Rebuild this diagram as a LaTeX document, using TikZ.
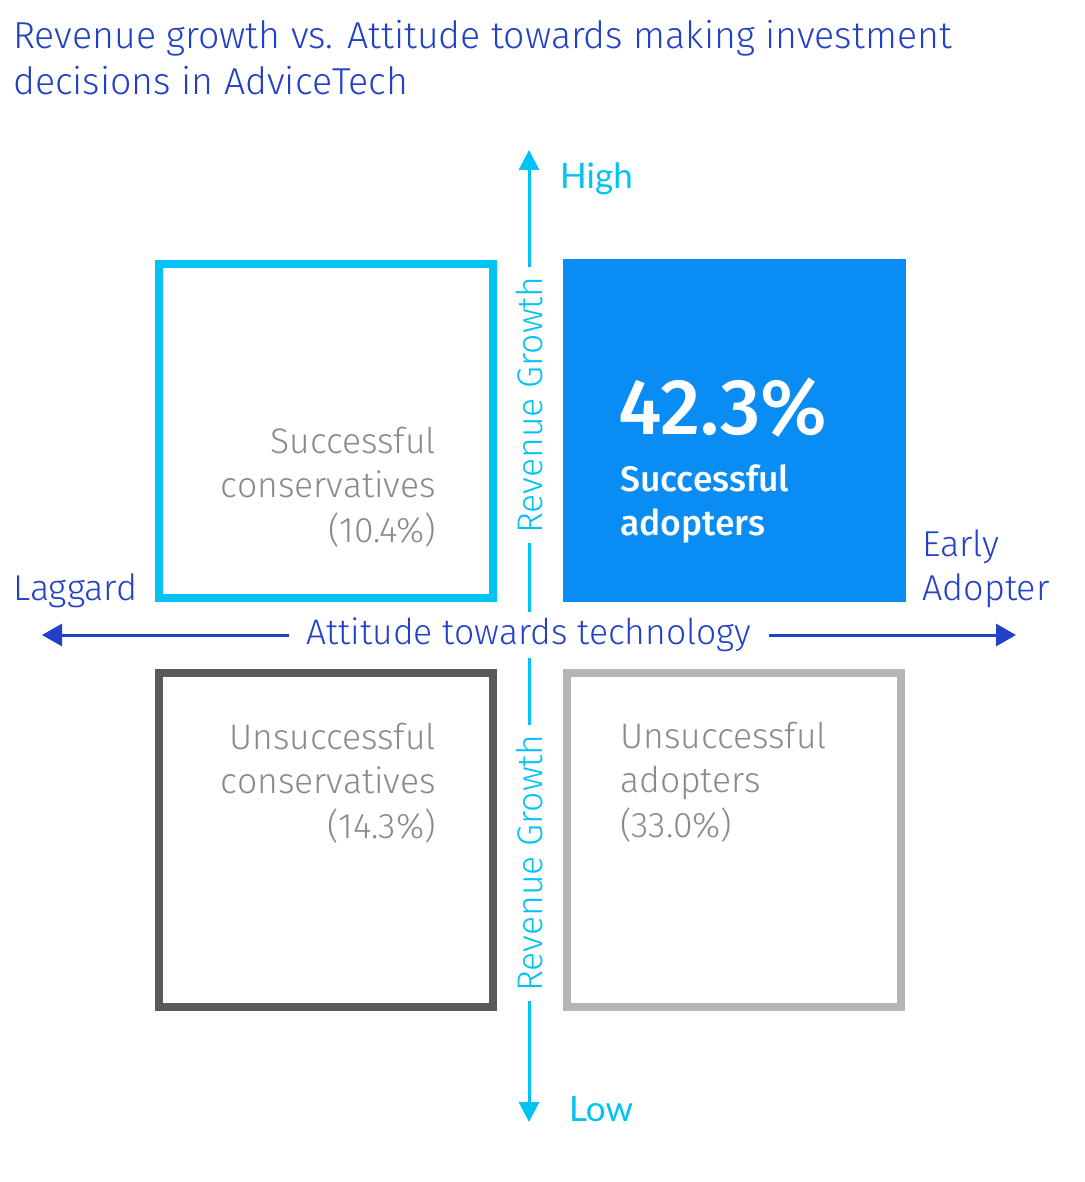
\documentclass[tikz,border=0pt]{standalone}
\usepackage{fontspec}
\setmainfont{Fira Sans}[UprightFont=* Light, BoldFont=* Medium]
\newfontfamily\latofont{Lato}
\usetikzlibrary{arrows.meta}
\definecolor{titleblue}{HTML}{2340C8}
\definecolor{axcyan}{HTML}{00C2F3}
\definecolor{boxblue}{HTML}{0A8CF5}
\definecolor{darkgray}{HTML}{5A5A5A}
\definecolor{lightgray}{HTML}{B5B5B5}
\definecolor{txtgray}{HTML}{8A8A8A}
\tikzset{
  quad/.style={draw, line width=8pt, minimum width=334pt, minimum height=334pt, inner sep=0pt},
  boxtxt/.style={text=txtgray, font=\fontsize{35.5}{44.5}\selectfont, inner sep=0pt},
  axlab/.style={font=\fontsize{36}{44.5}\selectfont, inner sep=0pt},
  vlab/.style={text=axcyan, fill=white, rotate=90, font=\fontsize{35.5}{40}\selectfont, inner xsep=9pt, inner ysep=4pt},
}
\begin{document}
\begin{tikzpicture}[x=1pt,y=-1pt]
\useasboundingbox (0,0) rectangle (1084,1182);
% title
\node[anchor=north west, align=left, text=titleblue, inner sep=0pt, font=\fontsize{37.5}{46}\selectfont] (title) at (13,20) {Revenue growth vs. Attitude towards making investment\\decisions in AdviceTech};
% quadrants
\node[quad, draw=axcyan] (sc) at (326,430.5) {};
\node[quad, draw=boxblue, fill=boxblue, line width=0pt, minimum width=342pt, minimum height=342pt] (sa) at (734,430) {};
\node[quad, draw=darkgray] (uc) at (326,840) {};
\node[quad, draw=lightgray] (ua) at (734,840) {};
% axes
\coordinate (vtop) at (529,150);
\coordinate (vbot) at (529,1122);
\coordinate (hleft) at (42,635);
\coordinate (hright) at (1016,635);
\draw[axcyan, line width=3pt, {Triangle[length=20pt,width=20pt]}-{Triangle[length=20pt,width=20pt]}] (vbot) -- (vtop);
\draw[titleblue, line width=3pt, {Triangle[length=20pt,width=22pt]}-{Triangle[length=20pt,width=22pt]}] (hleft) -- (hright);
\node[vlab] (rg1) at (529,405) {Revenue Growth};
\node[vlab] (rg2) at (529,863) {Revenue Growth};
\node[fill=white, text=titleblue, font=\fontsize{35.5}{40}\selectfont, inner xsep=18pt, inner ysep=6pt] (att) at (529,635) {Attitude towards technology};
% axis labels
\node[axlab, text=axcyan, anchor=west, font=\latofont\fontsize{35}{40}\selectfont] (high) at (560,179) {High};
\node[axlab, text=axcyan, anchor=west, font=\latofont\fontsize{35}{40}\selectfont] (low) at (569,1109) {Low};
\node[axlab, text=titleblue, anchor=west] (lag) at (13,591) {Laggard};
\node[axlab, text=titleblue, anchor=west, align=left] (early) at (922,569) {Early\\Adopter};
% box texts
\node[boxtxt, anchor=east, align=right] (sct) at (436,487) {Successful\\conservatives\\(10.4\%)};
\node[boxtxt, anchor=east, align=right] (uct) at (436,783) {Unsuccessful\\conservatives\\(14.3\%)};
\node[boxtxt, anchor=west, align=left] (uat) at (620,782) {Unsuccessful\\adopters\\(33.0\%)};
\node[anchor=west, text=white, inner sep=0pt, font=\bfseries\fontsize{79}{80}\selectfont] (pct) at (618,408) {42.3\%};
\node[anchor=west, align=left, text=white, inner sep=0pt, font=\bfseries\fontsize{35.5}{44.5}\selectfont] (sat) at (620,504) {Successful\\adopters};
\end{tikzpicture}
\end{document}
